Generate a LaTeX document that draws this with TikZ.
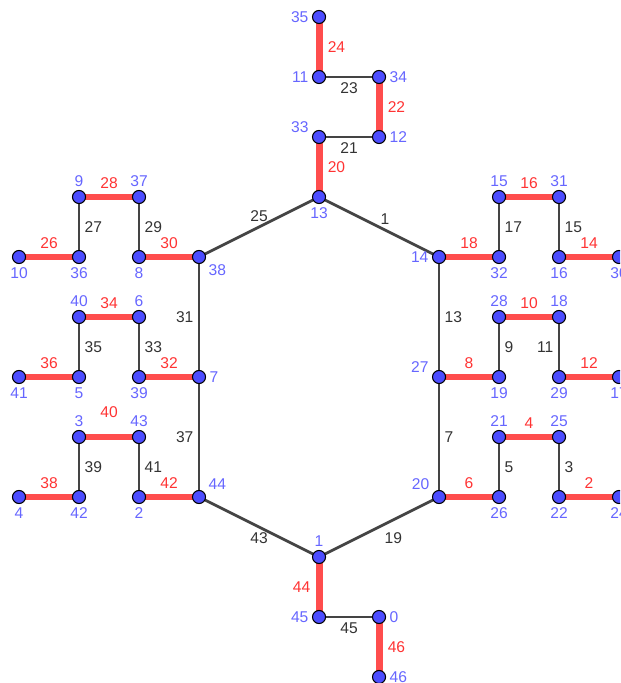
\documentclass[tikz,border=0pt]{standalone}
\usepackage{fontspec}
\setmainfont{Liberation Sans}
\usetikzlibrary{backgrounds}

\definecolor{vblue}{HTML}{4D4DFF}
\definecolor{lblue}{HTML}{6666FF}
\definecolor{ered}{HTML}{FF4D4D}
\definecolor{tred}{HTML}{FF3333}
\definecolor{egray}{HTML}{444444}
\definecolor{tgray}{HTML}{333333}

\begin{document}
\begin{tikzpicture}[font=\fontsize{7.4}{9}\selectfont,
  vtx/.style={circle, fill=vblue, draw=black, line width=0.5pt, inner sep=0pt, minimum size=6.2pt,
    label distance=0.5pt},
  every label/.style={text=lblue, inner sep=1.5pt},
  gedge/.style={draw=egray, line width=1.35pt},
  redge/.style={draw=ered, line width=3.3pt},
  glbl/.style={text=tgray, inner sep=2pt},
  rlbl/.style={text=tred, inner sep=2.5pt}]
\clip (-5.317,0.283) rectangle (5.017,-11.1);
% vertices
\foreach \n/\x/\y/\p in {35/0/0/left, 11/0/-1/left, 34/1/-1/right, 12/1/-2/right, 33/0/-2/170,
  13/0/-3/below, 14/2/-4/left, 32/3/-4/below, 15/3/-3/above, 31/4/-3/above, 16/4/-4/below,
  30/5/-4/below, 28/3/-5/above, 18/4/-5/above, 19/3/-6/below, 27/2/-6/170, 29/4/-6/below,
  17/5/-6/below, 21/3/-7/above, 25/4/-7/above, 26/3/-8/below, 20/2/-8/150, 22/4/-8/below,
  24/5/-8/below, 1/0/-9/above, 45/0/-10/left, 0/1/-10/right, 46/1/-11/right,
  9/-4/-3/above, 37/-3/-3/above, 10/-5/-4/below, 36/-4/-4/below, 8/-3/-4/below, 38/-2/-4/-30,
  40/-4/-5/above, 6/-3/-5/above, 41/-5/-6/below, 5/-4/-6/below, 39/-3/-6/below, 7/-2/-6/right,
  3/-4/-7/above, 43/-3/-7/above, 4/-5/-8/below, 42/-4/-8/below, 2/-3/-8/below, 44/-2/-8/30}
  \node[vtx, label={\p:\n}] (n\n) at (\x,\y) {};

\begin{pgfonlayer}{background}
% top chain
\draw[redge] (n35.center) -- node[right, rlbl]{24} (n11.center);
\draw[gedge] (n11.center) -- node[below, glbl]{23} (n34.center);
\draw[redge] (n34.center) -- node[right, rlbl]{22} (n12.center);
\draw[gedge] (n12.center) -- node[below, glbl]{21} (n33.center);
\draw[redge] (n33.center) -- node[right, rlbl]{20} (n13.center);
% hexagon
\draw[gedge] (n38.center) -- node[above, glbl]{25} (n13.center);
\draw[gedge] (n13.center) -- node[pos=0.55, above, glbl]{1} (n14.center);
\draw[gedge] (n14.center) -- node[right, glbl]{13} (n27.center);
\draw[gedge] (n27.center) -- node[right, glbl]{7} (n20.center);
\draw[gedge] (n20.center) -- node[below right, glbl]{19} (n1.center);
\draw[gedge] (n44.center) -- node[below, glbl]{43} (n1.center);
\draw[gedge] (n38.center) -- node[left, glbl]{31} (n7.center);
\draw[gedge] (n7.center) -- node[left, glbl]{37} (n44.center);
% right side
\draw[redge] (n14.center) -- node[above, rlbl]{18} (n32.center);
\draw[gedge] (n32.center) -- node[right, glbl]{17} (n15.center);
\draw[redge] (n15.center) -- node[above, rlbl]{16} (n31.center);
\draw[gedge] (n31.center) -- node[right, glbl]{15} (n16.center);
\draw[redge] (n16.center) -- node[above, rlbl]{14} (n30.center);
\draw[redge] (n28.center) -- node[above, rlbl]{10} (n18.center);
\draw[gedge] (n28.center) -- node[right, glbl]{9} (n19.center);
\draw[gedge] (n18.center) -- node[left, glbl]{11} (n29.center);
\draw[redge] (n29.center) -- node[above, rlbl]{12} (n17.center);
\draw[redge] (n27.center) -- node[above, rlbl]{8} (n19.center);
\draw[redge] (n21.center) -- node[above, rlbl]{4} (n25.center);
\draw[gedge] (n21.center) -- node[right, glbl]{5} (n26.center);
\draw[gedge] (n25.center) -- node[right, glbl]{3} (n22.center);
\draw[redge] (n22.center) -- node[above, rlbl]{2} (n24.center);
\draw[redge] (n20.center) -- node[above, rlbl]{6} (n26.center);
% bottom chain
\draw[redge] (n1.center) -- node[left, rlbl]{44} (n45.center);
\draw[gedge] (n45.center) -- node[below, glbl]{45} (n0.center);
\draw[redge] (n0.center) -- node[right, rlbl]{46} (n46.center);
% left side
\draw[redge] (n9.center) -- node[above, rlbl]{28} (n37.center);
\draw[gedge] (n9.center) -- node[right, glbl]{27} (n36.center);
\draw[gedge] (n37.center) -- node[right, glbl]{29} (n8.center);
\draw[redge] (n10.center) -- node[above, rlbl]{26} (n36.center);
\draw[redge] (n8.center) -- node[above, rlbl]{30} (n38.center);
\draw[redge] (n40.center) -- node[above, rlbl]{34} (n6.center);
\draw[gedge] (n40.center) -- node[right, glbl]{35} (n5.center);
\draw[gedge] (n6.center) -- node[right, glbl]{33} (n39.center);
\draw[redge] (n41.center) -- node[above, rlbl]{36} (n5.center);
\draw[redge] (n39.center) -- node[above, rlbl]{32} (n7.center);
\draw[redge] (n3.center) -- node[above=5pt, rlbl]{40} (n43.center);
\draw[gedge] (n3.center) -- node[right, glbl]{39} (n42.center);
\draw[gedge] (n43.center) -- node[right, glbl]{41} (n2.center);
\draw[redge] (n4.center) -- node[above, rlbl]{38} (n42.center);
\draw[redge] (n2.center) -- node[above, rlbl]{42} (n44.center);
\end{pgfonlayer}
\end{tikzpicture}
\end{document}
